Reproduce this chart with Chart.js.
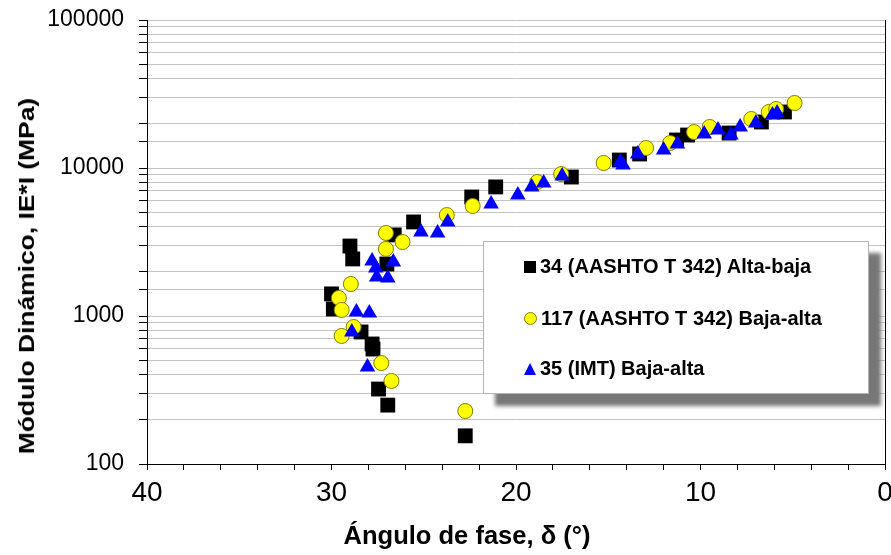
<!DOCTYPE html>
<html>
<head>
<meta charset="utf-8">
<script src="https://cdn.jsdelivr.net/npm/chart.js@4.4.1/dist/chart.umd.min.js"></script>
<style>
  body { margin: 0; background: #fff; }
  #wrap { position: relative; width: 891px; height: 555px; overflow: hidden; font-family: "Liberation Sans", Arial, sans-serif; }
  #ytitle {
    position: absolute; left: 27px; top: 276px; white-space: nowrap;
    font-weight: bold; font-size: 22px; color: #000;
    transform: translate(-50%, -50%) rotate(-90deg) scaleX(1.2);
  }
  #xtitle {
    position: absolute; left: 467px; top: 536px; white-space: nowrap;
    font-weight: bold; font-size: 23px; color: #000;
    transform: translate(-50%, -50%) scale(1.11, 1.12);
  }
  #legend {
    position: absolute; left: 483px; top: 241px; width: 384px; height: 151px;
    background: #fff; border: 1px solid #b4b4b4;
    box-shadow: 12px 12px 4px #777;
    font-weight: bold; font-size: 20px; color: #000;
  }
  .row { position: absolute; left: 40px; white-space: nowrap; display: flex; align-items: center; }
  .mk { display: inline-block; margin-right: 4px; }
  .sq { width: 12px; height: 12px; background: #000; }
  .ci { width: 11px; height: 11px; border-radius: 50%; background: #ff0; border: 1px solid #808000; }
  .tr { width: 0; height: 0; border-left: 6px solid transparent; border-right: 6px solid transparent; border-bottom: 12px solid #00f; }
</style>
</head>
<body>
<div id="wrap">
  <canvas id="chart" width="891" height="555"></canvas>
  <div id="ytitle">Módulo Dinámico, IE*I (MPa)</div>
  <div id="xtitle">Ángulo de fase, δ (°)</div>
  <div id="legend"></div>
</div>
<script>
const seriesNames = ['34 (AASHTO T 342) Alta-baja', '117 (AASHTO T 342) Baja-alta', '35 (IMT) Baja-alta'];

const fase34 = [22.4, 21.1, 25.55, 26.6, 29.0, 28.85, 27.0, 30.0, 29.9, 28.4, 27.8, 27.75, 27.45, 26.95, 22.75, 17.0, 14.4, 13.3, 11.3, 10.7, 8.45, 6.7, 5.45];
const modulo34 = [6370, 7450, 4320, 3530, 2970, 2430, 2245, 1410, 1115, 780, 647, 598, 321, 250, 155, 8690, 11320, 12440, 15460, 16700, 17230, 20460, 23900];

const fase117 = [22.35, 23.75, 27.05, 26.15, 27.05, 28.95, 29.6, 29.45, 28.8, 29.45, 27.3, 26.75, 22.75, 18.85, 17.55, 15.25, 12.95, 11.65, 10.35, 9.5, 7.25, 6.3, 5.9, 4.9];
const modulo117 = [5540, 4810, 3640, 3160, 2840, 1645, 1324, 1099, 843, 733, 481, 364, 228, 8040, 9100, 10810, 13650, 14750, 17500, 18930, 21430, 23900, 25050, 27500];

const fase35 = [23.7, 24.25, 25.15, 26.65, 27.8, 27.6, 27.55, 26.95, 28.65, 27.95, 28.9, 28.05, 21.35, 19.9, 19.15, 18.5, 17.5, 14.35, 14.2, 13.4, 12.0, 11.25, 9.8, 9.05, 8.35, 7.85, 7.0, 6.1, 5.85];
const modulo35 = [4320, 3640, 3695, 2317, 2353, 2110, 1835, 1806, 1064, 1048, 780, 452, 5710, 6570, 7440, 7920, 8830, 10980, 10480, 12440, 13240, 14530, 16980, 18060, 16700, 18930, 20140, 22800, 23540];

const xTickLabels = [40, 30, 20, 10, 0];
const yTickLabels = [100, 1000, 10000, 100000];

const xFont = { family: 'Liberation Sans Narrow, Liberation Sans, Arial', size: 28 };
// end labels (40 and 0) are drawn by the plugin so chart.js does not pad the plot area for them
const xEndLabels = [xTickLabels[0], xTickLabels[xTickLabels.length - 1]];

function pts(xs, ys) {
    return xs.map((x, i) => ({ x: x, y: ys[i] }));
}

// legend as html
const legendEl = document.getElementById('legend');
const marks = ['sq', 'ci', 'tr'];
const rowTops = [13, 65, 115];
seriesNames.forEach((name, i) => {
    const div = document.createElement('div');
    div.className = 'row';
    div.style.top = rowTops[i] + 'px';
    div.innerHTML = `<span class="mk ${marks[i]}"></span><span>${name}</span>`;
    legendEl.appendChild(div);
});

const frameExtras = {
    id: 'frameExtras',
    afterDraw(chart) {
        const a = chart.chartArea, ctx = chart.ctx;
        ctx.save();
        ctx.strokeStyle = '#000';
        ctx.lineWidth = 1;
        ctx.beginPath();
        ctx.moveTo(Math.round(a.right) + 0.5, a.top);
        ctx.lineTo(Math.round(a.right) + 0.5, a.bottom);
        ctx.stroke();
        ctx.fillStyle = '#000';
        ctx.font = xFont.size + 'px ' + xFont.family;
        ctx.textAlign = 'center';
        ctx.textBaseline = 'middle';
        xEndLabels.forEach(v => {
            ctx.fillText(String(v), chart.scales.x.getPixelForValue(v), a.bottom + 12 + xFont.size * 0.6);
        });
        ctx.restore();
    }
};

const ctx = document.getElementById('chart').getContext('2d');
new Chart(ctx, {
    type: 'scatter',
    data: {
        datasets: [
            { label: seriesNames[0], data: pts(fase34, modulo34), pointStyle: 'rect', pointRadius: 10.5,
              backgroundColor: '#000', borderColor: '#000', borderWidth: 0, order: 3 },
            { label: seriesNames[1], data: pts(fase117, modulo117), pointStyle: 'circle', pointRadius: 7.5,
              backgroundColor: '#ffff00', borderColor: '#7f7f00', borderWidth: 1, order: 2 },
            { label: seriesNames[2], data: pts(fase35, modulo35), pointStyle: 'triangle', pointRadius: 9,
              backgroundColor: '#0000ff', borderColor: '#0000ff', borderWidth: 0, order: 1 }
        ]
    },
    options: {
        responsive: false,
        animation: false,
        layout: { autoPadding: false, padding: { top: 20, right: 5, left: 0, bottom: 0 } },
        plugins: { legend: { display: false }, tooltip: { enabled: false } },
        scales: {
            x: {
                type: 'linear', reverse: true, min: 0, max: 40,
                border: { color: '#000', width: 1 },
                grid: { drawOnChartArea: false, tickLength: 6, tickColor: '#000' },
                ticks: {
                    stepSize: 2, autoSkip: false, maxRotation: 0, padding: 6, color: '#000',
                    font: xFont,
                    callback: v => (xTickLabels.includes(v) && !xEndLabels.includes(v)) ? String(v) : ''
                },
                afterFit(s) { s.height = 91; }
            },
            y: {
                type: 'logarithmic', min: 100, max: 100000,
                border: { color: '#000', width: 1 },
                grid: { color: '#c4c4c4', tickLength: 8, tickColor: '#000' },
                ticks: {
                    autoSkip: false, padding: 15, color: '#000',
                    font: { family: 'Liberation Sans, Arial', size: 23 },
                    callback: v => yTickLabels.includes(v) ? String(v) : ''
                },
                afterFit(s) { s.width = 147; s.paddingTop = 0; s.paddingBottom = 0; }
            }
        }
    },
    plugins: [frameExtras]
});
</script>
</body>
</html>
